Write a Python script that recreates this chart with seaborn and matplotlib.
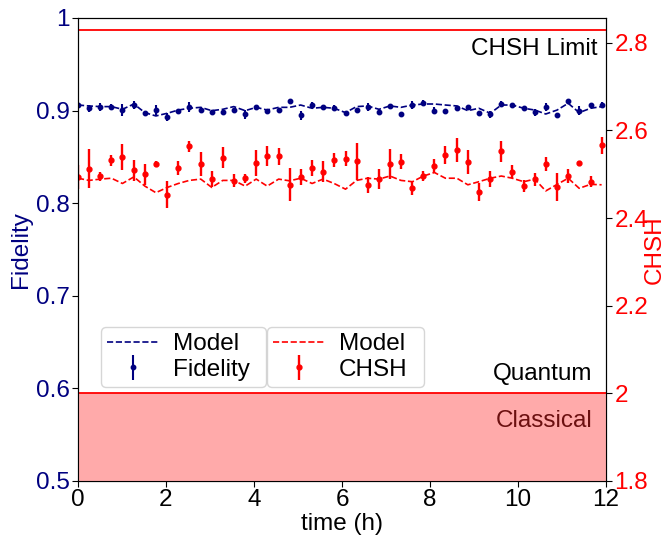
import numpy as np
import seaborn as sns
import matplotlib
matplotlib.use("Agg")
import matplotlib.pyplot as plt
from matplotlib.ticker import FormatStrFormatter

# measurement times (h)
times = [0.00, 0.25, 0.51, 0.76, 1.01, 1.27, 1.52, 1.77, 2.03, 2.28, 2.53, 2.79,
         3.04, 3.29, 3.54, 3.80, 4.05, 4.30, 4.56, 4.81, 5.06, 5.32, 5.57, 5.82,
         6.08, 6.33, 6.58, 6.84, 7.09, 7.34, 7.60, 7.85, 8.10, 8.35, 8.61, 8.86,
         9.11, 9.37, 9.62, 9.87, 10.13, 10.38, 10.63, 10.89, 11.14, 11.39, 11.65, 11.90]

fidelity = [0.906, 0.9025, 0.904, 0.904, 0.9006, 0.906, 0.897, 0.9006, 0.893, 0.900, 0.904, 0.901,
            0.899, 0.898, 0.9006, 0.896, 0.9035, 0.900, 0.901, 0.910, 0.895, 0.906, 0.904, 0.9025,
            0.897, 0.9006, 0.904, 0.899, 0.905, 0.896, 0.906, 0.9086, 0.900, 0.900, 0.9025, 0.9035,
            0.897, 0.896, 0.907, 0.9057, 0.9025, 0.898, 0.904, 0.895, 0.910, 0.900, 0.906, 0.906]

fidelity_err = [0.003, 0.004, 0.004, 0.003, 0.006, 0.004, 0.002, 0.005, 0.004, 0.002, 0.005, 0.003,
                0.002, 0.002, 0.002, 0.005, 0.003, 0.002, 0.002, 0.001, 0.005, 0.003, 0.002, 0.003,
                0.003, 0.002, 0.004, 0.003, 0.002, 0.003, 0.004, 0.003, 0.004, 0.001, 0.002, 0.003,
                0.003, 0.004, 0.003, 0.002, 0.001, 0.004, 0.004, 0.001, 0.003, 0.005, 0.002, 0.003]

fidelity_model = [0.906, 0.905, 0.9043, 0.9043, 0.9014, 0.9071, 0.8978, 0.8942, 0.8971, 0.9006, 0.9025, 0.9035,
                  0.8999, 0.9014, 0.9043, 0.8999, 0.9035, 0.9006, 0.9035, 0.9035, 0.906, 0.9025, 0.9035, 0.9025,
                  0.8978, 0.9043, 0.905, 0.9014, 0.905, 0.9035, 0.906, 0.9071, 0.9071, 0.906, 0.905, 0.8999,
                  0.9025, 0.8971, 0.906, 0.906, 0.9025, 0.9006, 0.8963, 0.9006, 0.9079, 0.8978, 0.9025, 0.9043]

chsh = [2.494, 2.513, 2.495, 2.532, 2.539, 2.509, 2.500, 2.524, 2.453, 2.514, 2.564, 2.523,
        2.489, 2.538, 2.485, 2.491, 2.526, 2.542, 2.541, 2.476, 2.494, 2.515, 2.506, 2.532,
        2.536, 2.530, 2.476, 2.489, 2.524, 2.529, 2.468, 2.496, 2.519, 2.544, 2.555, 2.528,
        2.460, 2.489, 2.553, 2.506, 2.473, 2.489, 2.524, 2.471, 2.496, 2.526, 2.483, 2.566]

chsh_err = [0.027, 0.044, 0.010, 0.012, 0.030, 0.024, 0.024, 0.007, 0.031, 0.016, 0.013, 0.027,
            0.018, 0.024, 0.015, 0.010, 0.030, 0.022, 0.020, 0.038, 0.019, 0.018, 0.024, 0.016,
            0.016, 0.042, 0.018, 0.023, 0.034, 0.018, 0.015, 0.011, 0.017, 0.021, 0.027, 0.027,
            0.021, 0.019, 0.024, 0.015, 0.013, 0.015, 0.016, 0.032, 0.015, 0.004, 0.012, 0.019]

chsh_model = [2.491, 2.486, 2.489, 2.491, 2.479, 2.494, 2.473, 2.458, 2.470, 2.479, 2.486, 2.489,
              2.470, 2.486, 2.486, 2.473, 2.489, 2.473, 2.489, 2.485, 2.491, 2.479, 2.489, 2.479,
              2.466, 2.486, 2.491, 2.489, 2.496, 2.486, 2.483, 2.496, 2.504, 2.491, 2.491, 2.476,
              2.483, 2.491, 2.496, 2.491, 2.483, 2.489, 2.462, 2.477, 2.491, 2.468, 2.477, 2.476]

classical_bound = 2.0
quantum_bound = 2 * np.sqrt(2)

navy = "#000080"
red = "red"
fs = 17.5

sns.set_style("ticks")
plt.rcParams["font.family"] = ["Liberation Sans", "DejaVu Sans"]
plt.rcParams.update({"font.size": fs, "text.color": "black", "axes.labelcolor": "black",
                     "xtick.color": "black", "ytick.color": "black", "axes.edgecolor": "black"})

fig, ax1 = plt.subplots(figsize=(6.7, 5.4), dpi=100)
fig.subplots_adjust(left=0.1164, right=0.9045, top=0.9667, bottom=0.1093)
ax2 = ax1.twinx()

# fidelity (left axis)
sns.lineplot(x=times, y=fidelity_model, ax=ax1, color=navy, linestyle="--", lw=1.2)
fid_h = ax1.errorbar(times, fidelity, yerr=fidelity_err, fmt="o", color=navy,
                     ms=3.2, elinewidth=1.5, capsize=0)
fid_line = ax1.get_lines()[0]

# CHSH (right axis)
ax2.axhspan(1.8, classical_bound, color="#ffaaaa", lw=0, zorder=0)
ax2.axhline(classical_bound, color=red, lw=1.3)
ax2.axhline(quantum_bound, color=red, lw=1.3)
sns.lineplot(x=times, y=chsh_model, ax=ax2, color=red, linestyle="--", lw=1.2)
chsh_h = ax2.errorbar(times, chsh, yerr=chsh_err, fmt="o", color=red,
                      ms=3.5, elinewidth=1.7, capsize=0)
chsh_line = [l for l in ax2.get_lines() if l.get_linestyle() == "--"][0]

ax1.set_xlim(0, 12)
ax1.set_xticks(range(0, 13, 2))
ax1.set_ylim(0.5, 1.0)
ax1.set_yticks([0.5, 0.6, 0.7, 0.8, 0.9, 1.0])
ax1.yaxis.set_major_formatter(FormatStrFormatter("%g"))
ax2.set_ylim(1.8, quantum_bound * 1.01)
ax2.set_yticks([1.8, 2.0, 2.2, 2.4, 2.6, 2.8])
ax2.yaxis.set_major_formatter(FormatStrFormatter("%g"))

ax1.set_xlabel("time (h)", fontsize=fs, labelpad=1)
ax1.set_ylabel("Fidelity", color=navy, fontsize=fs)
ax2.set_ylabel("CHSH", color=red, fontsize=fs)
ax1.yaxis.set_label_coords(-0.087, 0.5)
ax2.yaxis.set_label_coords(1.072, 0.5)
ax1.tick_params(axis="y", labelcolor=navy, labelsize=fs, length=4, pad=2)
ax1.tick_params(axis="x", labelsize=fs, length=4, pad=2)
ax2.tick_params(axis="y", labelcolor=red, labelsize=fs, length=4, pad=2)

ax2.text(0.983, 0.934, "CHSH Limit", transform=ax2.transAxes, ha="right", va="center", fontsize=fs)
ax2.text(0.974, 0.231, "Quantum", transform=ax2.transAxes, ha="right", va="center", fontsize=fs)
ax2.text(0.974, 0.13, "Classical", transform=ax2.transAxes, ha="right", va="center",
         fontsize=fs, color="#6b1010")

leg_style = dict(loc="lower left", mode="expand", borderaxespad=0, fontsize=fs,
                 labelspacing=0.15, borderpad=0.25, handlelength=2.1, handletextpad=0.6)
leg1 = ax2.legend([fid_line, fid_h], ["Model", "Fidelity"],
                  bbox_to_anchor=(0.0436, 0.203, 0.3125, 0.1), **leg_style)
ax2.add_artist(leg1)
ax2.legend([chsh_line, chsh_h], ["Model", "CHSH"],
           bbox_to_anchor=(0.358, 0.203, 0.297, 0.1), **leg_style)

fig.savefig("out.png", dpi=100)
